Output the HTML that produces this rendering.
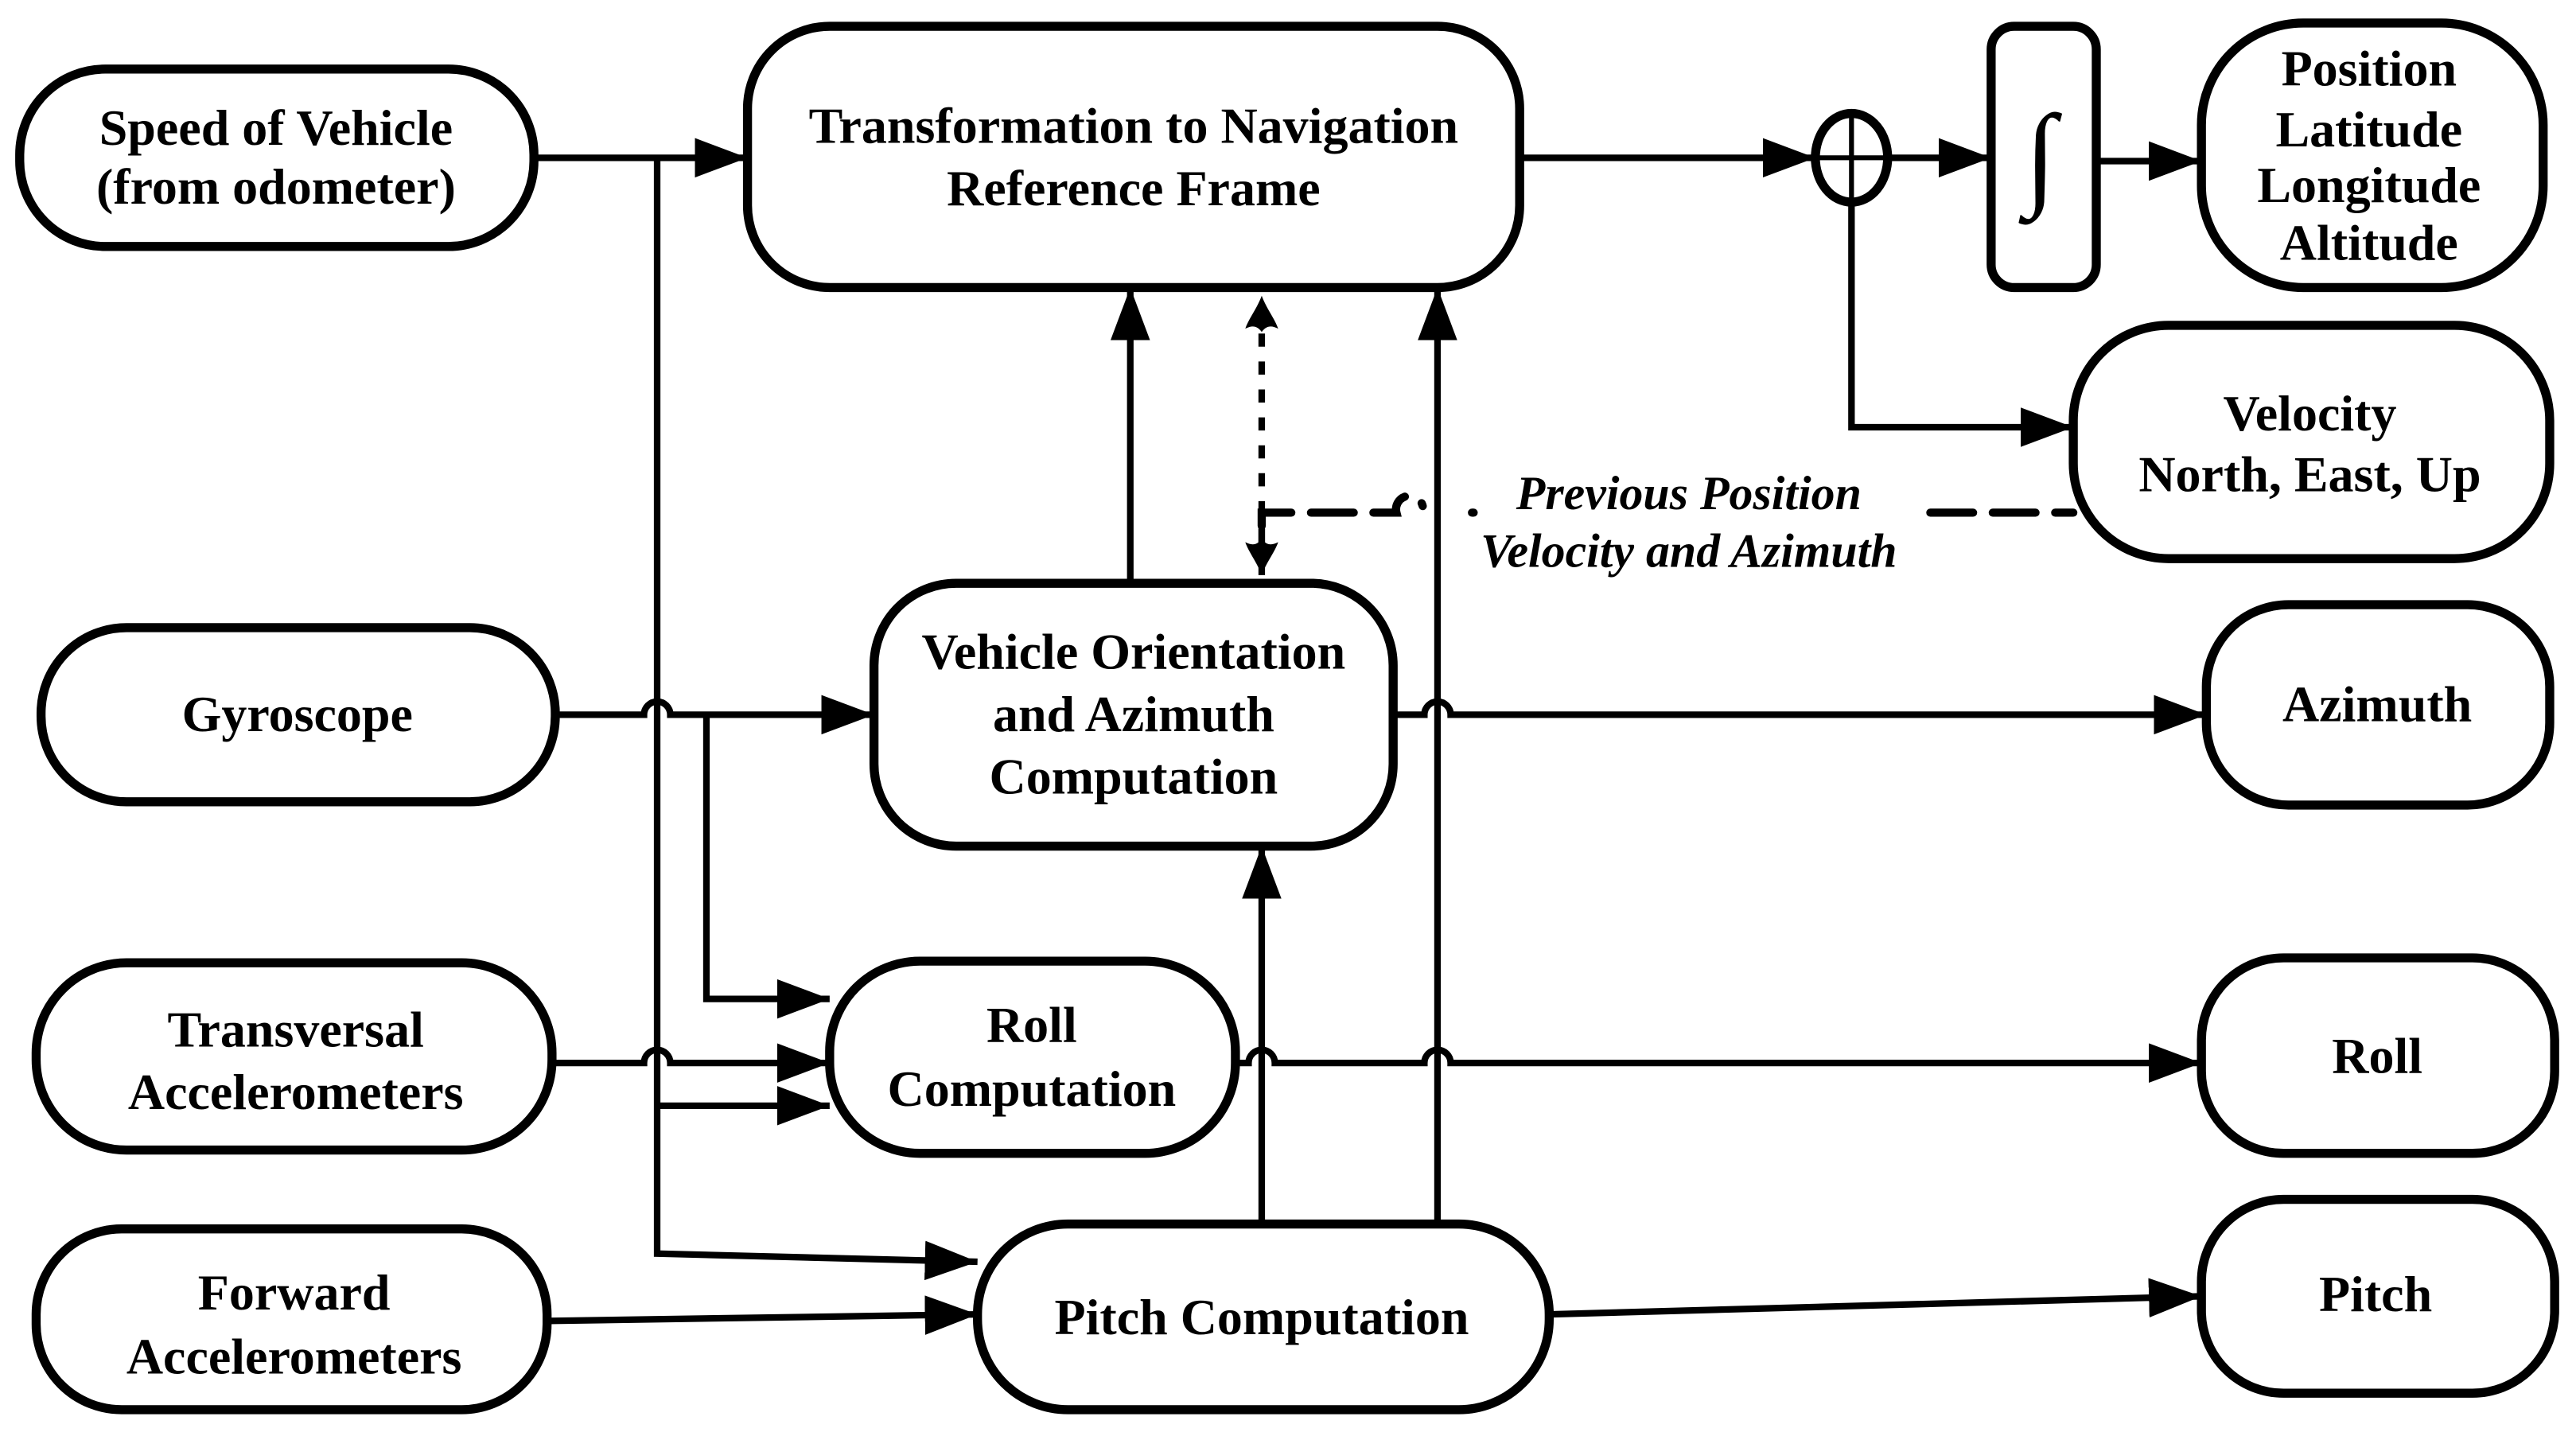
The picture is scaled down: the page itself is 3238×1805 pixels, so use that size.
<!DOCTYPE html>
<html><head><meta charset="utf-8"><style>html,body{margin:0;padding:0;background:#fff}svg{display:block}</style></head><body>
<svg width="3238" height="1805" viewBox="0 0 1568 874" xmlns="http://www.w3.org/2000/svg">
<defs>
<marker id="a" markerUnits="userSpaceOnUse" markerWidth="34" markerHeight="26" refX="32" refY="12" orient="auto"><path d="M0,0 L32,12 L0,24 Z" fill="#000"/></marker>
<marker id="o" markerUnits="userSpaceOnUse" markerWidth="30" markerHeight="30" refX="26" refY="12" orient="auto"><path d="M26,12 C18,9 12,4 6,2 C8,6 8,9 4,12 C8,15 8,18 6,22 C12,20 18,15 26,12 Z" fill="#000"/></marker>
</defs>
<g fill="none" stroke="#000" stroke-width="5.5">
<rect x="12" y="42" width="313" height="108" rx="52"/>
<rect x="455" y="16" width="470" height="159" rx="50"/>
<ellipse cx="1127" cy="96" rx="22" ry="27"/>
<rect x="1212" y="16" width="64" height="159" rx="14"/>
<rect x="1340" y="14" width="208" height="161" rx="62"/>
<rect x="1262" y="198" width="290" height="142" rx="58"/>
<rect x="25" y="382" width="313" height="106" rx="52"/>
<rect x="532" y="355" width="316" height="160" rx="50"/>
<rect x="1343" y="368" width="209" height="122" rx="50"/>
<rect x="22" y="586" width="314" height="114" rx="55"/>
<rect x="505" y="585" width="247" height="117" rx="55"/>
<rect x="1340" y="583" width="215" height="119" rx="50"/>
<rect x="22" y="748" width="311" height="110" rx="52"/>
<rect x="595" y="745" width="348" height="113" rx="55"/>
<rect x="1340" y="730" width="215" height="118" rx="50"/>
</g>
<g fill="none" stroke="#000" stroke-width="4">
<path d="M1127,69 V123 M1105,96 H1149" stroke-width="3"/>
<path d="M325,96 H455" marker-end="url(#a)"/>
<path d="M400,96 V763 L595,768" marker-end="url(#a)"/>
<path d="M400,673 H505" marker-end="url(#a)"/>
<path d="M338,435 H392 a8,8 0 0 1 16,0 H532" marker-end="url(#a)"/>
<path d="M430,435 V608 H505" marker-end="url(#a)"/>
<path d="M336,647 H392 a8,8 0 0 1 16,0 H505" marker-end="url(#a)"/>
<path d="M333,804 L595,800" marker-end="url(#a)"/>
<path d="M768,745 V515" marker-end="url(#a)"/>
<path d="M875,745 V175" marker-end="url(#a)"/>
<path d="M688,355 V175" marker-end="url(#a)"/>
<path d="M848,435 H867 a8,8 0 0 1 16,0 H1343" marker-end="url(#a)"/>
<path d="M752,647 H760 a8,8 0 0 1 16,0 H867 a8,8 0 0 1 16,0 L1340,647" marker-end="url(#a)"/>
<path d="M943,800 L1340,789" marker-end="url(#a)"/>
<path d="M925,96 H1105" marker-end="url(#a)"/>
<path d="M1149,96 H1212" marker-end="url(#a)"/>
<path d="M1276,98 H1340" marker-end="url(#a)"/>
<path d="M1127,123 V260 H1262" marker-end="url(#a)"/>
<path d="M768,330 V180" stroke-dasharray="8,9" marker-end="url(#o)"/>
<path d="M768,312 V350" marker-end="url(#o)"/>
<path d="M768,320 V312 H850 a8,8 0 0 1 16,-4 M896,312 H897 M1175,312 H1262" stroke-width="5" stroke-dasharray="26,12" stroke-linecap="round"/>
</g>
<g font-family="Liberation Serif, serif" font-weight="bold" font-size="31" text-anchor="middle" fill="#000">
<text x="168" y="88">Speed of Vehicle</text>
<text x="168" y="124">(from odometer)</text>
<text x="690" y="87">Transformation to Navigation</text>
<text x="690" y="125">Reference Frame</text>
<text x="1242" y="118" font-size="70" font-weight="normal">∫</text>
<text x="1442" y="52">Position</text>
<text x="1442" y="89">Latitude</text>
<text x="1442" y="123">Longitude</text>
<text x="1442" y="158">Altitude</text>
<text x="1406" y="262">Velocity</text>
<text x="1406" y="299">North, East, Up</text>
<text x="181" y="445">Gyroscope</text>
<text x="690" y="407">Vehicle Orientation</text>
<text x="690" y="445">and Azimuth</text>
<text x="690" y="483">Computation</text>
<text x="1447" y="439">Azimuth</text>
<text x="180" y="637">Transversal</text>
<text x="180" y="675">Accelerometers</text>
<text x="628" y="634">Roll</text>
<text x="628" y="673">Computation</text>
<text x="1447" y="653">Roll</text>
<text x="179" y="797">Forward</text>
<text x="179" y="836">Accelerometers</text>
<text x="768" y="812">Pitch Computation</text>
<text x="1446" y="798">Pitch</text>
<text x="1028" y="310" font-style="italic" font-size="29">Previous Position</text>
<text x="1028" y="345" font-style="italic" font-size="29">Velocity and Azimuth</text>
</g>
</svg>
</body></html>
